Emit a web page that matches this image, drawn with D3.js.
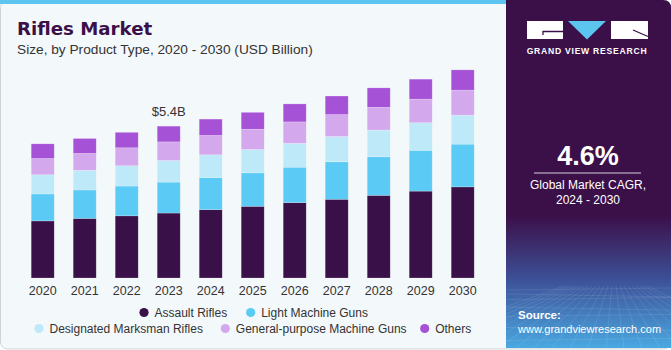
<!DOCTYPE html>
<html>
<head>
<meta charset="utf-8">
<script src="https://cdn.jsdelivr.net/npm/d3@7"></script>
<style>
  html, body { margin: 0; padding: 0; background: #ffffff; }
  svg { display: block; font-family: "Liberation Sans", Arial, sans-serif; }
</style>
</head>
<body>
<div id="drawing"></div>
<script>
const width = 671;
const height = 350;

// values (USD Billion)
const years = ["2020", "2021", "2022", "2023", "2024", "2025", "2026", "2027", "2028", "2029", "2030"];
const assaultRifles = [2.03, 2.12, 2.21, 2.31, 2.43, 2.55, 2.68, 2.80, 2.94, 3.09, 3.24];
const lightMachineGuns = [0.96, 1.01, 1.06, 1.10, 1.14, 1.19, 1.26, 1.33, 1.37, 1.45, 1.52];
const marksmanRifles = [0.68, 0.70, 0.72, 0.77, 0.81, 0.83, 0.85, 0.90, 0.95, 0.98, 1.03];
const gpMachineGuns = [0.58, 0.60, 0.64, 0.66, 0.69, 0.72, 0.76, 0.78, 0.81, 0.84, 0.89];
const others = [0.52, 0.53, 0.55, 0.56, 0.58, 0.60, 0.64, 0.66, 0.69, 0.71, 0.72];
const seriesNames = ["Assault Rifles", "Light Machine Guns", "Designated Marksman Rifles", "General-purpose Machine Guns", "Others"];
const seriesColors = ["#3a1048", "#5bcbf5", "#bde9f8", "#d4a8ec", "#a552d6"];
const labelYear = "2023";
const labelText = "$5.4B";

const svg = d3.select("#drawing").append("svg")
  .attr("width", width)
  .attr("height", height);

const defs = svg.append("defs");
const grad = defs.append("linearGradient")
  .attr("id", "panelGrad")
  .attr("x1", 0).attr("y1", 0).attr("x2", 0).attr("y2", 1);
grad.append("stop").attr("offset", "0%").attr("stop-color", "#3b1049");
grad.append("stop").attr("offset", "62%").attr("stop-color", "#3b1049");
grad.append("stop").attr("offset", "80%").attr("stop-color", "#3d4f96");
grad.append("stop").attr("offset", "100%").attr("stop-color", "#4aa8e2");

// card background
svg.append("rect")
  .attr("x", 0.5).attr("y", 0.5)
  .attr("width", width - 1).attr("height", height - 1.5)
  .attr("rx", 7)
  .attr("fill", "#f3f8fb")
  .attr("stroke", "#cfd3d7");

// top accent strip
svg.append("rect")
  .attr("x", 0).attr("y", 0)
  .attr("width", 506).attr("height", 4)
  .attr("fill", "#5bc5ef");

// right panel
const panel = svg.append("g");
panel.append("path")
  .attr("d", "M506,0 H663 Q671,0 671,8 V348 H506 Z")
  .attr("fill", "url(#panelGrad)");

// faint perspective grid at the bottom of the panel
const gridG = panel.append("g")
  .attr("stroke", "#ffffff")
  .attr("stroke-opacity", 0.16)
  .attr("stroke-width", 0.6)
  .attr("fill", "none");
d3.range(0, 9).forEach((i) => {
  const yy = 290 + i * i * 0.9 + i * 3;
  gridG.append("line").attr("x1", 506).attr("x2", 671).attr("y1", yy).attr("y2", yy + (i % 2 ? 3 : -2));
});
d3.range(-6, 16).forEach((i) => {
  gridG.append("line")
    .attr("x1", 588 + i * 4).attr("y1", 286)
    .attr("x2", 588 + (i - 5) * 18).attr("y2", 348);
});

// logo
const logo = panel.append("g");
logo.append("rect").attr("x", 527).attr("y", 21).attr("width", 36).attr("height", 18).attr("fill", "#ffffff");
logo.append("path").attr("d", "M543,35 V31.5 H563").attr("stroke", "#3b1049").attr("stroke-width", 1.3).attr("fill", "none");
logo.append("path").attr("d", "M568,21 H606 L587,39.5 Z").attr("fill", "#5bc5ef");
logo.append("rect").attr("x", 611).attr("y", 21).attr("width", 37).attr("height", 18).attr("fill", "#ffffff");
logo.append("path").attr("d", "M633,30 L648,36.5").attr("stroke", "#3b1049").attr("stroke-width", 1.3);
logo.append("text")
  .attr("x", 587).attr("y", 54)
  .attr("text-anchor", "middle")
  .attr("fill", "#ffffff")
  .attr("font-size", 8.6)
  .attr("font-weight", "bold")
  .attr("letter-spacing", 0.75)
  .text("GRAND VIEW RESEARCH");

panel.append("text")
  .attr("x", 588).attr("y", 165)
  .attr("text-anchor", "middle")
  .attr("fill", "#ffffff")
  .attr("font-size", 27)
  .attr("font-weight", "bold")
  .text("4.6%");
panel.append("line")
  .attr("x1", 534).attr("x2", 641)
  .attr("y1", 173).attr("y2", 173)
  .attr("stroke", "#d8d0de").attr("stroke-width", 1);
panel.append("text")
  .attr("x", 588).attr("y", 189)
  .attr("text-anchor", "middle")
  .attr("fill", "#ffffff")
  .attr("font-size", 12)
  .text("Global Market CAGR,");
panel.append("text")
  .attr("x", 588).attr("y", 204)
  .attr("text-anchor", "middle")
  .attr("fill", "#ffffff")
  .attr("font-size", 12)
  .text("2024 - 2030");
panel.append("text")
  .attr("x", 518).attr("y", 319)
  .attr("fill", "#ffffff")
  .attr("font-size", 11.5)
  .attr("font-weight", "bold")
  .text("Source:");
panel.append("text")
  .attr("x", 518).attr("y", 333)
  .attr("fill", "#ffffff")
  .attr("font-size", 11)
  .text("www.grandviewresearch.com");

// titles
svg.append("text")
  .attr("x", 17).attr("y", 35)
  .attr("fill", "#3b1049")
  .attr("font-size", 18.2)
  .attr("font-weight", "bold")
  .attr("font-family", "DejaVu Sans, sans-serif")
  .text("Rifles Market");
svg.append("text")
  .attr("x", 17).attr("y", 54)
  .attr("fill", "#333333")
  .attr("font-size", 13.7)
  .text("Size, by Product Type, 2020 - 2030 (USD Billion)");

// scales
const xScale = d3.scaleBand()
  .domain(years)
  .range([21.7, 483.7])
  .paddingInner(0.452)
  .paddingOuter(0.226);
const yScale = d3.scaleLinear()
  .domain([0, 8])
  .range([278, 53]);

const table = years.map((y, i) => ({
  year: y,
  s0: assaultRifles[i],
  s1: lightMachineGuns[i],
  s2: marksmanRifles[i],
  s3: gpMachineGuns[i],
  s4: others[i]
}));
const keys = ["s0", "s1", "s2", "s3", "s4"];
const stacked = d3.stack().keys(keys)(table);

const chart = svg.append("g");
chart.selectAll(".layer")
  .data(stacked)
  .enter()
  .append("g")
    .attr("class", "layer")
    .attr("fill", (d, i) => seriesColors[i])
  .selectAll("rect")
  .data((d) => d)
  .enter()
  .append("rect")
    .attr("x", (d) => xScale(d.data.year))
    .attr("y", (d) => yScale(d[1]))
    .attr("width", xScale.bandwidth())
    .attr("height", (d) => yScale(d[0]) - yScale(d[1]))
    .attr("stroke", "#ffffff")
    .attr("stroke-opacity", 0.35)
    .attr("stroke-width", 0.6);

// total label
const labelIndex = years.indexOf(labelYear);
const labelTotal = d3.sum(keys, (k) => table[labelIndex][k]);
svg.append("text")
  .attr("x", xScale(labelYear) + xScale.bandwidth() / 2)
  .attr("y", yScale(labelTotal) - 10)
  .attr("text-anchor", "middle")
  .attr("fill", "#333333")
  .attr("font-size", 13)
  .text(labelText);

// x axis
const xAxis = svg.append("g")
  .attr("transform", "translate(0,278)")
  .call(d3.axisBottom(xScale).tickSize(0).tickPadding(8));
xAxis.select(".domain").remove();
xAxis.selectAll("text")
  .attr("fill", "#333333")
  .attr("font-size", 12.5)
  .attr("font-family", "Liberation Sans, Arial, sans-serif");

// legend
const legendItems = [
  {i: 0, cx: 144, cy: 312.5},
  {i: 1, cx: 250.7, cy: 312.5},
  {i: 2, cx: 39, cy: 328.5},
  {i: 3, cx: 225.3, cy: 328.5},
  {i: 4, cx: 424.7, cy: 328.5}
];
const legend = svg.append("g");
legendItems.forEach((d) => {
  legend.append("circle")
    .attr("cx", d.cx).attr("cy", d.cy).attr("r", 4.6)
    .attr("fill", seriesColors[d.i]);
  legend.append("text")
    .attr("x", d.cx + 10.5).attr("y", d.cy + 4.3)
    .attr("fill", "#333333")
    .attr("font-size", 12)
    .text(seriesNames[d.i]);
});
</script>
</body>
</html>
